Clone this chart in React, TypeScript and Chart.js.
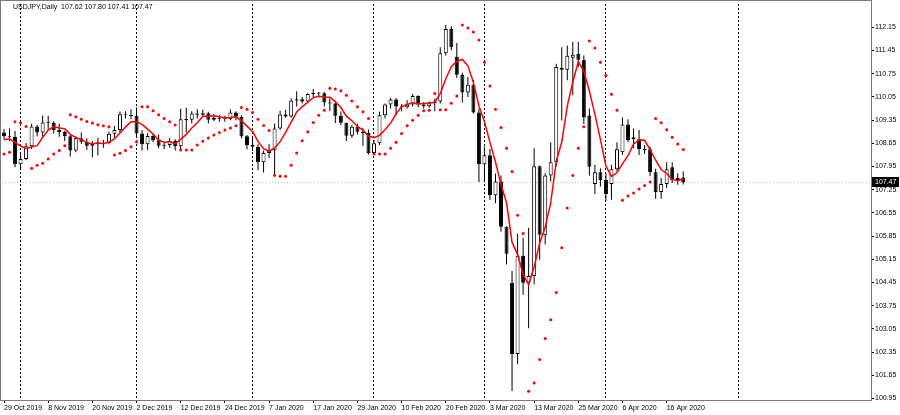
import React, { useEffect, useRef } from 'react';
import { Chart, registerables } from 'chart.js';

Chart.register(...registerables);

// ---------------- data ----------------
const SYMBOL = 'USDJPY,Daily';
const FIRST_TRADING_DAY = [2019, 9, 29]; // 29 Oct 2019 (month is 0-based)
const HOLIDAYS = ['2019-12-25', '2020-01-01'];
const FUTURE_DAYS = 34; // empty shifted area on the right (calendar days)

const opens = [
  108.98, 108.86, 108.84, 108.02, 108.18, 108.56, 109.16, 108.98, 109.28, 109.26,
  109.05, 108.99, 108.86, 108.43, 108.80, 108.70, 108.58, 108.64, 108.63, 108.66,
  108.94, 109.05, 109.53, 109.50, 109.48, 108.95, 108.62, 108.87, 108.74, 108.58,
  108.60, 108.72, 108.56, 109.38, 109.36, 109.55, 109.51, 109.56, 109.36, 109.42,
  109.40, 109.38, 109.58, 109.45, 108.86, 108.60, 108.55, 108.08, 108.36, 108.44,
  109.10, 109.52, 109.46, 109.94, 109.98, 109.91, 110.14, 110.17, 110.16, 109.88,
  109.85, 109.48, 109.27, 108.88, 109.15, 109.00, 108.96, 108.36, 108.65, 109.50,
  109.82, 109.97, 109.76, 109.74, 109.82, 110.08, 109.82, 109.77, 109.86, 109.91,
  111.37, 112.10, 111.26, 110.72, 110.18, 110.42, 109.58, 108.02, 108.29, 107.08,
  107.50, 106.13, 104.44, 102.29, 105.26, 104.44, 104.65, 107.96, 105.89, 107.68,
  108.08, 110.93, 110.87, 111.23, 111.35, 111.17, 109.49, 107.42, 107.78, 107.54,
  107.42, 107.87, 108.38, 109.22, 108.77, 108.77, 108.47, 108.47, 107.78, 107.18,
  107.42, 107.93, 107.54, 107.62,
];

const highs = [
  109.08, 109.10, 109.02, 108.33, 108.66, 109.24, 109.20, 109.49, 109.48, 109.32,
  109.24, 109.03, 108.90, 108.86, 108.98, 108.80, 108.72, 108.82, 108.75, 109.00,
  109.17, 109.61, 109.62, 109.68, 109.73, 109.05, 108.96, 108.95, 108.92, 108.70,
  108.80, 108.77, 109.69, 109.72, 109.62, 109.68, 109.67, 109.60, 109.53, 109.50,
  109.48, 109.68, 109.62, 109.50, 108.90, 108.86, 108.62, 108.43, 108.62, 109.25,
  109.63, 109.66, 110.00, 110.22, 110.05, 110.16, 110.29, 110.20, 110.20, 110.00,
  109.88, 109.61, 109.27, 109.20, 109.24, 109.12, 109.07, 108.75, 109.60, 109.85,
  110.02, 110.02, 109.84, 109.95, 110.14, 110.10, 109.90, 109.91, 110.00, 111.55,
  112.22, 112.18, 111.68, 110.78, 110.65, 110.56, 109.70, 108.55, 108.48, 107.74,
  107.68, 106.15, 104.80, 105.92, 105.80, 106.10, 108.50, 107.98, 107.75, 108.68,
  111.05, 111.55, 111.60, 111.71, 111.71, 111.30, 109.70, 108.00, 107.90, 107.74,
  108.00, 108.68, 109.43, 109.38, 109.10, 109.05, 108.60, 108.55, 107.88, 107.60,
  108.08, 108.08, 107.75, 107.80,
];

const lows = [
  108.77, 108.72, 107.93, 107.88, 108.14, 108.48, 108.86, 108.85, 109.06, 108.95,
  108.85, 108.72, 108.25, 108.38, 108.63, 108.45, 108.23, 108.28, 108.52, 108.62,
  108.82, 108.98, 109.40, 109.38, 108.85, 108.43, 108.45, 108.68, 108.50, 108.48,
  108.52, 108.43, 108.42, 108.98, 109.25, 109.40, 109.45, 109.25, 109.32, 109.30,
  109.30, 109.35, 109.35, 108.80, 108.47, 108.42, 107.84, 107.77, 108.20, 107.65,
  109.05, 109.42, 109.42, 109.76, 109.85, 109.86, 110.05, 110.06, 109.76, 109.62,
  109.26, 109.20, 108.72, 108.81, 108.92, 108.58, 108.31, 108.35, 108.60, 109.40,
  109.70, 109.50, 109.62, 109.70, 109.76, 109.74, 109.70, 109.72, 109.62, 109.85,
  111.30, 111.46, 110.62, 109.88, 110.05, 109.55, 107.48, 107.48, 106.94, 106.84,
  105.98, 104.99, 101.18, 101.98, 104.08, 103.07, 104.40, 105.14, 105.60, 107.50,
  107.95, 109.34, 110.55, 110.10, 110.95, 109.23, 107.68, 107.12, 107.35, 106.92,
  106.95, 107.80, 108.30, 108.68, 108.50, 108.30, 108.33, 107.66, 106.98, 106.98,
  107.30, 107.45, 107.40, 107.41,
];

const closes = [
  108.86, 108.84, 108.02, 108.18, 108.56, 109.16, 108.98, 109.28, 109.26, 109.05,
  108.99, 108.86, 108.43, 108.80, 108.70, 108.58, 108.64, 108.63, 108.66, 108.94,
  109.05, 109.53, 109.50, 109.48, 108.95, 108.62, 108.87, 108.74, 108.58, 108.60,
  108.72, 108.56, 109.38, 109.36, 109.55, 109.51, 109.56, 109.36, 109.42, 109.40,
  109.38, 109.58, 109.45, 108.86, 108.60, 108.55, 108.08, 108.36, 108.44, 109.10,
  109.52, 109.46, 109.94, 109.98, 109.91, 110.14, 110.17, 110.16, 109.88, 109.85,
  109.48, 109.27, 108.88, 109.15, 109.00, 108.96, 108.36, 108.65, 109.50, 109.82,
  109.97, 109.76, 109.74, 109.82, 110.08, 109.82, 109.77, 109.86, 109.91, 111.37,
  112.10, 111.55, 110.72, 110.18, 110.42, 109.58, 108.02, 108.29, 107.08, 107.50,
  106.13, 105.32, 102.29, 105.26, 104.44, 104.65, 107.96, 105.89, 107.68, 108.08,
  110.95, 110.87, 111.29, 111.32, 111.17, 109.43, 107.94, 107.78, 107.54, 107.12,
  107.87, 108.47, 109.22, 108.74, 108.83, 108.47, 108.46, 107.78, 107.18, 107.42,
  107.87, 107.54, 107.60, 107.47,
];

// red moving-average line
const maLine = [
  108.76, 108.79, 108.67, 108.57, 108.49, 108.55, 108.58, 108.83, 109.05, 109.15,
  109.11, 109.09, 108.92, 108.83, 108.76, 108.67, 108.63, 108.67, 108.64, 108.69,
  108.78, 108.96, 109.14, 109.30, 109.30, 109.22, 109.08, 108.93, 108.75, 108.68,
  108.70, 108.64, 108.77, 108.92, 109.11, 109.27, 109.47, 109.47, 109.48, 109.45,
  109.42, 109.43, 109.45, 109.33, 109.17, 109.01, 108.71, 108.49, 108.41, 108.51,
  108.70, 108.98, 109.29, 109.60, 109.76, 109.89, 110.03, 110.07, 110.05, 110.04,
  109.91, 109.73, 109.47, 109.33, 109.16, 109.05, 108.87, 108.82, 108.89, 109.06,
  109.26, 109.54, 109.76, 109.82, 109.87, 109.84, 109.85, 109.87, 109.89, 110.15,
  110.60, 110.96, 111.13, 111.18, 110.99, 110.49, 109.78, 109.30, 108.68, 108.09,
  107.40, 106.86, 105.66, 105.30, 104.69, 104.39, 104.92, 105.64, 106.12, 106.85,
  108.11, 108.69, 109.77, 110.50, 111.12, 110.82, 110.23, 109.53, 108.77, 107.96,
  107.65, 107.76, 108.04, 108.28, 108.63, 108.75, 108.74, 108.46, 108.14, 107.86,
  107.74, 107.56, 107.52, 107.58,
];

// parabolic SAR dots
const sarDots = [
  108.33, 108.38, 109.30, 109.27, 109.16, 107.90, 107.99, 108.05, 108.18, 108.33,
  108.43, 108.58, 109.51, 109.45, 109.38, 109.31, 109.26, 109.21, 109.18, 109.15,
  108.30, 108.35, 108.43, 108.55, 108.70, 109.75, 109.75, 109.63, 109.51, 109.40,
  109.30, 109.20, 108.45, 108.45, 108.45, 108.60, 108.71, 108.81, 108.90, 108.98,
  109.05, 109.11, 109.18, 109.73, 109.68, 109.58, 109.38, 109.19, 109.04, 107.69,
  107.66, 107.66, 107.99, 108.36, 108.73, 109.00, 109.28, 109.50, 109.65, 110.31,
  110.29, 110.24, 110.10, 109.93, 109.75, 109.60, 109.40, 108.33, 108.33, 108.33,
  108.50, 108.68, 108.95, 109.18, 109.35, 109.50, 109.63, 109.65, 110.15, 109.66,
  109.66, 109.86, 110.08, 112.22, 112.13, 112.01, 111.77, 111.10, 110.38, 109.68,
  109.13, 108.50, 107.80, 106.48, 105.93, 101.17, 101.42, 102.13, 102.76, 103.33,
  104.15, 105.50, 106.70, 107.68, 108.50, 109.15, 111.74, 111.53, 111.10, 110.70,
  110.13, 109.65, 106.93, 107.06, 107.15, 107.27, 107.38, 107.48, 109.40, 109.27,
  109.06, 108.83, 108.63, 108.46,
];

// price-axis tick labels
const priceTicks = [
  100.95, 101.65, 102.35, 103.05, 103.75, 104.45, 105.15, 105.85,
  106.55, 107.25, 107.95, 108.65, 109.35, 110.05, 110.75, 111.45, 112.15,
];
const PRICE_MIN = 100.905;
const PRICE_MAX = 112.854;
const DATE_LABEL_EVERY = 8;

const MONTHS = ['Jan', 'Feb', 'Mar', 'Apr', 'May', 'Jun', 'Jul', 'Aug', 'Sep', 'Oct', 'Nov', 'Dec'];

// ---------------- derived (calendar) ----------------
function isoOf(d: Date) {
  return d.toISOString().slice(0, 10);
}

function buildDates(count: number, future: number): Date[] {
  const out: Date[] = [];
  const d = new Date(Date.UTC(FIRST_TRADING_DAY[0], FIRST_TRADING_DAY[1], FIRST_TRADING_DAY[2]));
  while (out.length < count) {
    const wd = d.getUTCDay();
    if (wd !== 0 && wd !== 6 && !HOLIDAYS.includes(isoOf(d))) out.push(new Date(d.getTime()));
    d.setUTCDate(d.getUTCDate() + 1);
  }
  const last = out[out.length - 1];
  for (let k = 1; k <= future; k++) {
    const f = new Date(last.getTime());
    f.setUTCDate(f.getUTCDate() + k);
    out.push(f);
  }
  return out;
}

const nData = closes.length;
const dates = buildDates(nData, FUTURE_DAYS);
const dateLabels = dates.map((d) => `${d.getUTCDate()} ${MONTHS[d.getUTCMonth()]} ${d.getUTCFullYear()}`);
const monthStart = dates.map((d, i) => i > 0 && d.getUTCMonth() !== dates[i - 1].getUTCMonth());
const isLabelIdx = (i: number) => i % DATE_LABEL_EVERY === 0 && i < nData;

const wickData = lows.map((l, i) => [l, highs[i]]);
const bodyData = opens.map((o, i) => {
  const c = closes[i];
  let lo = Math.min(o, c);
  let hi = Math.max(o, c);
  if (hi - lo < 0.03) {
    const m = (hi + lo) / 2;
    lo = m - 0.015;
    hi = m + 0.015;
  }
  return [lo, hi];
});
const bodyFill = opens.map((o, i) => (closes[i] > o ? '#ffffff' : '#000000'));

const FONT = 'Liberation Sans';
const CLEAR = 'rgba(0,0,0,0)';

const decorPlugin = {
  id: 'mt4Decor',
  beforeDraw(chart: any) {
    const { ctx, width, height } = chart;
    ctx.save();
    ctx.fillStyle = '#ffffff';
    ctx.fillRect(0, 0, width, height);
    ctx.restore();
  },
  beforeDatasetsDraw(chart: any) {
    const { ctx, chartArea } = chart;
    const y = Math.round(chart.scales.y.getPixelForValue(closes[nData - 1])) + 0.5;
    ctx.save();
    ctx.strokeStyle = '#c0c0c0';
    ctx.lineWidth = 1;
    ctx.setLineDash([1, 2]);
    ctx.beginPath();
    ctx.moveTo(chartArea.left - 2, y);
    ctx.lineTo(chartArea.right, y);
    ctx.stroke();
    ctx.restore();
  },
  afterDraw(chart: any) {
    const { ctx, chartArea } = chart;
    ctx.save();
    // frame
    ctx.strokeStyle = '#7a7a7a';
    ctx.lineWidth = 1;
    ctx.setLineDash([]);
    ctx.strokeRect(0.5, 0.5, chartArea.right, chartArea.bottom);
    // title
    ctx.fillStyle = '#000000';
    ctx.font = `7px "${FONT}"`;
    ctx.textBaseline = 'middle';
    ctx.textAlign = 'left';
    const last = nData - 1;
    const txt = `${SYMBOL}  ${opens[last].toFixed(2)} ${highs[last].toFixed(2)} ${lows[last].toFixed(2)} ${closes[last].toFixed(2)}`;
    ctx.fillText(txt, 13, 7.5);
    // current price marker
    const y = Math.round(chart.scales.y.getPixelForValue(closes[last]));
    ctx.fillStyle = '#000000';
    ctx.fillRect(chartArea.right + 1, y - 5, 27, 10);
    ctx.fillStyle = '#ffffff';
    ctx.fillText(closes[last].toFixed(2), chartArea.right + 4, y + 0.5);
    ctx.restore();
  },
};

export default function App() {
  const ref = useRef<HTMLCanvasElement | null>(null);

  useEffect(() => {
    document.body.style.margin = '0';
    const canvas = ref.current;
    if (!canvas) return;
    const chart = new Chart(canvas, {
      type: 'bar',
      data: {
        labels: dateLabels,
        datasets: [
          {
            type: 'bar',
            label: 'wick',
            data: wickData as any,
            backgroundColor: '#000000',
            borderWidth: 0,
            barThickness: 1,
            grouped: false,
            inflateAmount: 0,
            order: 3,
            clip: false as any,
          } as any,
          {
            type: 'bar',
            label: 'body',
            data: bodyData as any,
            backgroundColor: bodyFill,
            borderColor: '#000000',
            borderWidth: 1,
            borderSkipped: false,
            barThickness: 4,
            grouped: false,
            inflateAmount: 0,
            order: 2,
            clip: false as any,
          } as any,
          {
            type: 'line',
            label: 'MA',
            data: maLine,
            borderColor: '#ff0000',
            borderWidth: 1.5,
            pointRadius: 0,
            tension: 0,
            fill: false,
            order: 1,
          } as any,
          {
            type: 'line',
            label: 'SAR',
            data: sarDots,
            showLine: false,
            pointRadius: 1.5,
            pointBackgroundColor: '#ff0000',
            pointBorderWidth: 0,
            order: 0,
          } as any,
        ],
      },
      options: {
        responsive: false,
        animation: false,
        devicePixelRatio: 1,
        layout: { padding: { left: 2, top: 1, right: 0, bottom: 0 } },
        plugins: {
          legend: { display: false },
          tooltip: { enabled: false },
        },
        scales: {
          x: {
            type: 'category',
            offset: false,
            grid: {
              display: true,
              drawOnChartArea: true,
              drawTicks: true,
              tickLength: 3,
              offset: false,
              lineWidth: 1,
              color: (c: any) => (monthStart[c.index] ? '#000000' : CLEAR),
              tickColor: (c: any) => (isLabelIdx(c.index) ? '#000000' : CLEAR),
            },
            border: { display: false, dash: [2, 2] },
            ticks: {
              autoSkip: false,
              maxRotation: 0,
              minRotation: 0,
              align: 'start',
              padding: 1,
              color: '#000000',
              font: { family: FONT, size: 7 },
              callback: (_v: any, i: number) => (isLabelIdx(i) ? dateLabels[i] : ''),
            },
            afterFit: (s: any) => {
              s.height = 15;
              s.paddingLeft = 0;
              s.paddingRight = 0;
            },
          } as any,
          y: {
            position: 'right',
            min: PRICE_MIN,
            max: PRICE_MAX,
            afterBuildTicks: (s: any) => {
              s.ticks = priceTicks.map((v) => ({ value: v }));
            },
            grid: {
              drawOnChartArea: false,
              drawTicks: true,
              tickLength: 3,
              tickColor: '#000000',
            },
            border: { display: false },
            ticks: {
              padding: 1,
              color: '#000000',
              font: { family: FONT, size: 7 },
              callback: (v: any) => Number(v).toFixed(2),
            },
            afterFit: (s: any) => {
              s.width = 29;
              s.paddingTop = 0;
              s.paddingBottom = 0;
            },
          } as any,
        },
      },
      plugins: [decorPlugin],
    });
    return () => chart.destroy();
  }, []);

  return (
    <div style={{ width: 900, height: 415, position: 'relative' }}>
      <canvas ref={ref} width={900} height={415} style={{ width: 900, height: 415, display: 'block' }} />
    </div>
  );
}
